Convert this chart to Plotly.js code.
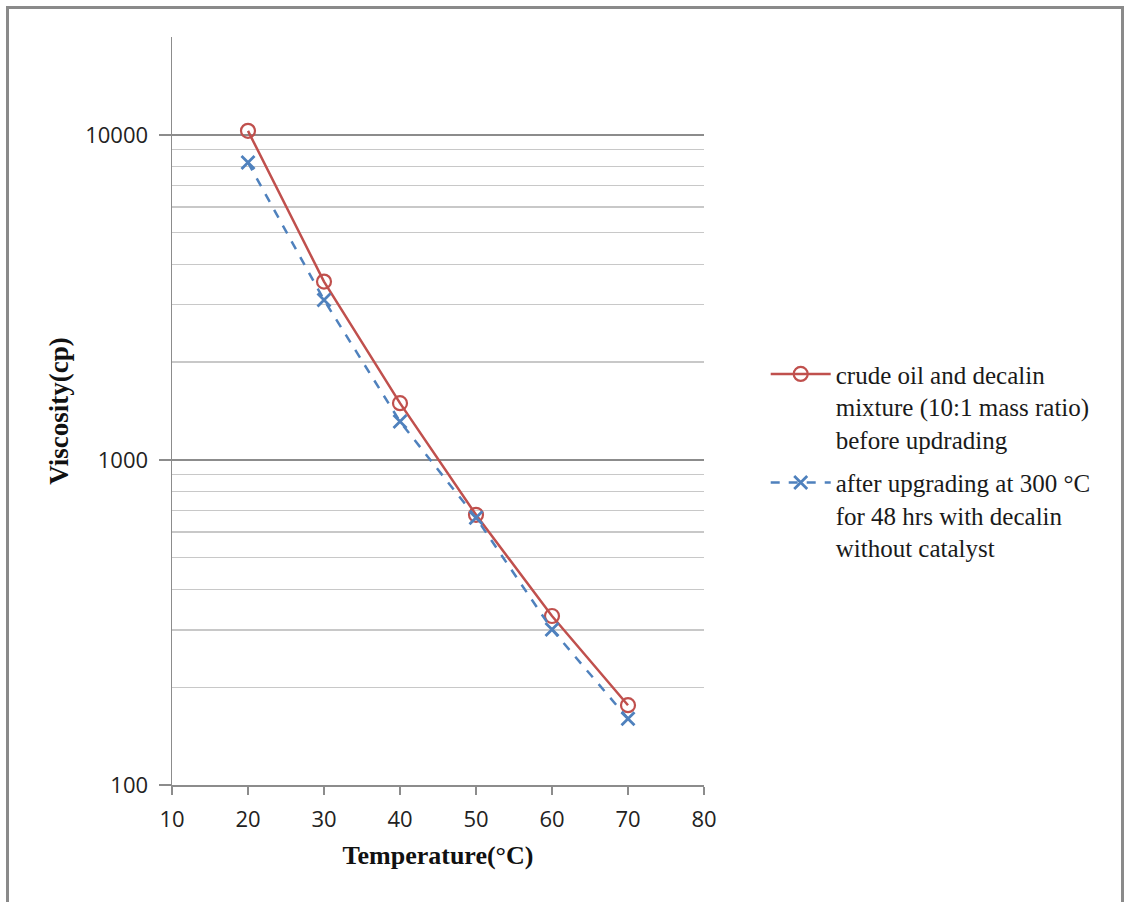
<!DOCTYPE html>
<html>
<head>
<meta charset="utf-8">
<script src="https://cdn.plot.ly/plotly-3.0.1.min.js"></script>
<style>
  html, body { margin: 0; padding: 0; background: #fff; }
  #frame { position: absolute; left: 6px; top: 6px; width: 1118px; height: 900px; border-left: 3px solid #8a8a8a; border-top: 3px solid #8a8a8a; border-right: 3px solid #8a8a8a; box-sizing: border-box; pointer-events: none; z-index: 10; }
  #chart { width: 1127px; height: 902px; }
</style>
</head>
<body>
<div id="frame"></div>
<div id="chart"></div>
<script>
// Data
const temperature = [20, 30, 40, 50, 60, 70];
const viscosityBefore = [10290, 3537, 1495, 678, 331, 176];
const viscosityAfter = [8220, 3105, 1312, 664, 301, 160];
const seriesNames = [
  "crude oil and decalin<br>mixture (10:1 mass ratio)<br>before updrading",
  "after upgrading at 300 °C<br>for 48 hrs with decalin<br>without catalyst"
];
const yTickVals = [100, 1000, 10000];
const yTickText = ["100", "1000", "10000"];
const xTickVals = [10, 20, 30, 40, 50, 60, 70, 80];

const traces = [
  {
    x: temperature, y: viscosityBefore, name: seriesNames[0], legendgroup: "g1",
    type: "scatter", mode: "lines+markers",
    line: { color: "#C0504D", width: 2.5 },
    marker: { symbol: "circle-open", size: 14, color: "#C0504D", line: { width: 2.2, color: "#C0504D" } }
  },
  {
    x: temperature, y: viscosityAfter, name: seriesNames[1], legendgroup: "g2",
    type: "scatter", mode: "lines+markers",
    line: { color: "#4F81BD", width: 2.5, dash: "dash" },
    marker: { symbol: "x-thin-open", size: 13, color: "#4F81BD", line: { width: 2.8, color: "#4F81BD" } }
  }
];

const layout = {
  width: 1127, height: 902,
  paper_bgcolor: "#ffffff", plot_bgcolor: "#ffffff",
  margin: { l: 172, r: 423, t: 37, b: 117, pad: 0 },
  showlegend: true,
  legend: {
    x: 1.116, xanchor: "left", y: 0.58, yanchor: "top",
    font: { family: "Liberation Serif, Times New Roman, serif", size: 25, color: "#1a1a1a" },
    itemwidth: 60, tracegroupgap: 8, valign: "top", bgcolor: "rgba(0,0,0,0)"
  },
  xaxis: {
    range: [10, 80], tickvals: xTickVals, showgrid: false, zeroline: false,
    showline: true, linecolor: "#8c8c8c", linewidth: 1.5,
    ticks: "outside", ticklen: 8, tickcolor: "#8c8c8c", tickwidth: 1.5,
    ticklabelstandoff: 6,
    tickfont: { family: "Open Sans, Liberation Sans, sans-serif", size: 22, color: "#222" },
    title: { text: "Temperature(°C)", font: { family: "Liberation Serif, Times New Roman, serif", size: 26, color: "#111", weight: "bold" }, standoff: 14 }
  },
  yaxis: {
    type: "log", range: [2, Math.log10(20000)],
    tickvals: yTickVals, ticktext: yTickText,
    showgrid: true, gridcolor: "#8c8c8c", gridwidth: 1.3, zeroline: false,
    showline: true, linecolor: "#8c8c8c", linewidth: 1.5,
    ticks: "outside", ticklen: 12, tickcolor: "#8c8c8c", tickwidth: 1.5,
    ticklabelstandoff: 6,
    tickfont: { family: "Open Sans, Liberation Sans, sans-serif", size: 22, color: "#222" },
    minor: { dtick: "D1", showgrid: true, gridcolor: "#c8c8c8", gridwidth: 1.2, ticks: "" },
    title: { text: "Viscosity(cp)", font: { family: "Liberation Serif, Times New Roman, serif", size: 27, color: "#111", weight: "bold" }, standoff: 8 }
  }
};

Plotly.newPlot("chart", traces, layout, { displayModeBar: false, staticPlot: true });
</script>
</body>
</html>
